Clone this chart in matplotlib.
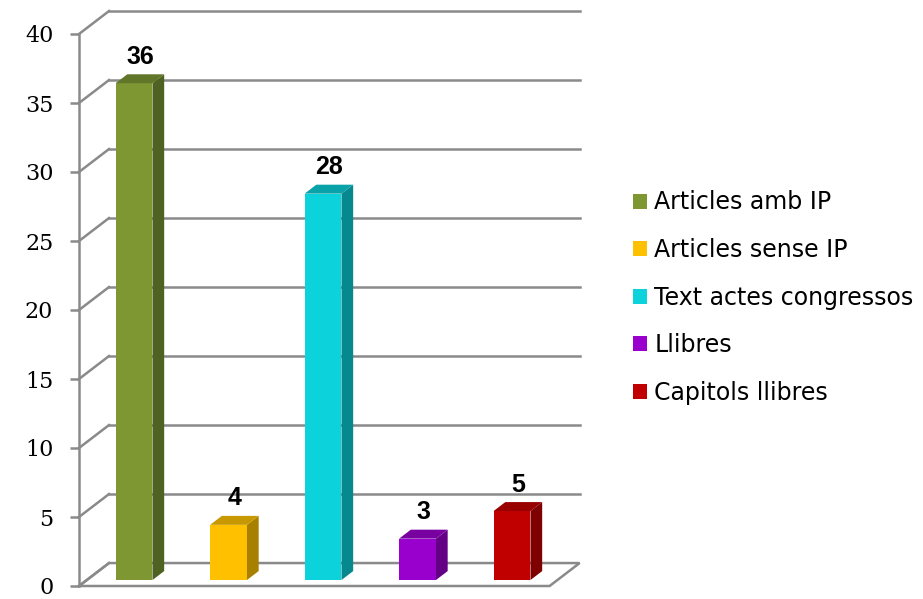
import matplotlib
matplotlib.use("Agg")
import matplotlib.pyplot as plt
from matplotlib.patches import Patch, Polygon

# data
categories = ["Articles amb IP", "Articles sense IP", "Text actes congressos", "Llibres", "Capitols llibres"]
values = [36, 4, 28, 3, 5]
front_colors = ["#7F9733", "#FFC000", "#0BD2DB", "#9A00CD", "#C00000"]
side_colors = ["#4F6222", "#A88000", "#07888E", "#640086", "#7E0000"]
top_colors = ["#617628", "#C89800", "#08A2A8", "#7800A0", "#980000"]
yticks = [0, 5, 10, 15, 20, 25, 30, 35, 40]

# pseudo 3d depth (data units for full depth)
DX, DY = 0.3175, 1.663
d_front, d_back = 0.26, 0.65
bar_w = 0.39
grid_c = "#8A8A8A"

W, H = 923, 599
fig = plt.figure(figsize=(W / 100, H / 100), dpi=100)
ax = fig.add_axes([79 / W, 13 / H, 470.6 / W, 552 / H])
ax.set_xlim(-0.5, 4.48)
ax.set_ylim(0, 40)
xl, xr = ax.get_xlim()

for s in ["top", "right", "bottom"]:
    ax.spines[s].set_visible(False)
ax.spines["left"].set_color(grid_c)
ax.spines["left"].set_linewidth(1.8)
ax.set_xticks([])
ax.set_yticks(yticks)
ax.tick_params(axis="y", length=6.5, width=1.8, color=grid_c, pad=12, labelsize=16)
for lab in ax.get_yticklabels():
    lab.set_fontfamily("DejaVu Serif")

# floor
floor = Polygon([(xl, 0), (xr, 0), (xr + DX, DY), (xl + DX, DY)], closed=True,
                facecolor="white", edgecolor=grid_c, lw=1.8, clip_on=False, zorder=1)
ax.add_patch(floor)

# back wall grid and side wall lines
for v in yticks:
    if v > 0:
        ax.plot([xl + DX, xr + DX], [v + DY, v + DY], color=grid_c, lw=1.8,
                clip_on=False, zorder=1)
    ax.plot([xl, xl + DX], [v, v + DY], color=grid_c, lw=1.8, clip_on=False, zorder=1)

# bars
xs = list(range(len(values)))
ox, oy = d_front * DX, d_front * DY
ddx, ddy = (d_back - d_front) * DX, (d_back - d_front) * DY
for i, v in enumerate(values):
    x0 = xs[i] + ox - bar_w / 2
    x1 = xs[i] + ox + bar_w / 2
    ax.bar(xs[i] + ox, v, width=bar_w, bottom=oy, color=front_colors[i],
           clip_on=False, zorder=3)
    side = Polygon([(x1, oy), (x1 + ddx, oy + ddy), (x1 + ddx, v + oy + ddy), (x1, v + oy)],
                   closed=True, facecolor=side_colors[i], edgecolor="none",
                   clip_on=False, zorder=3)
    top = Polygon([(x0, v + oy), (x1, v + oy), (x1 + ddx, v + oy + ddy), (x0 + ddx, v + oy + ddy)],
                  closed=True, facecolor=top_colors[i], edgecolor="none",
                  clip_on=False, zorder=3)
    ax.add_patch(side)
    ax.add_patch(top)
    ax.annotate(str(v), (xs[i] + ox + ddx / 2, v + oy + ddy), xytext=(0, 4),
                textcoords="offset points", ha="center", va="bottom",
                fontsize=18, fontweight="bold", family="Liberation Sans",
                annotation_clip=False, zorder=4)

handles = [Patch(facecolor=c, edgecolor="none") for c in front_colors]
fig.legend(handles, categories, loc="center left", bbox_to_anchor=(612 / W, 0.503),
           frameon=False, fontsize=17, handlelength=0.6, handleheight=0.6,
           handletextpad=0.3, labelspacing=1.0)

fig.savefig("out.png", dpi=100)
